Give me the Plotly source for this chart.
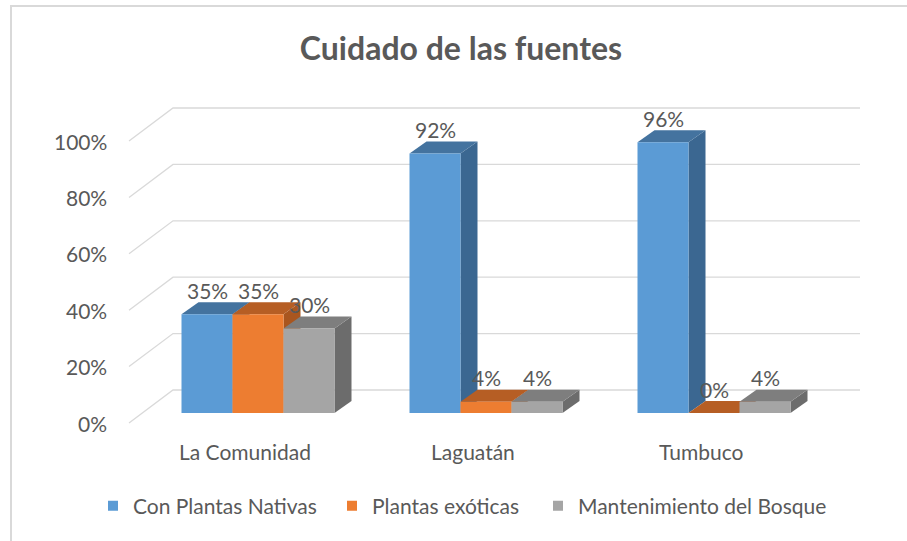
import plotly.graph_objects as go

# ---- data -------------------------------------------------------------
categories = ["La Comunidad", "Laguatán", "Tumbuco"]
series_names = ["Con Plantas Nativas", "Plantas exóticas", "Mantenimiento del Bosque"]
nativas = [35, 92, 96]
exoticas = [35, 4, 0]
bosque = [30, 4, 4]
tick_values = [0, 20, 40, 60, 80, 100]
tick_labels = ["0%", "20%", "40%", "60%", "80%", "100%"]

series_values = [nativas, exoticas, bosque]

# ---- styling ----------------------------------------------------------
front_colors = ["#5B9BD5", "#ED7D31", "#A5A5A5"]
top_colors = ["#44739F", "#B65E24", "#7E7E7E"]
side_colors = ["#3B6791", "#A9561F", "#6C6C6C"]
TEXT = "#595959"
GRID = "#D9D9D9"
FONT = "Lato"
FS = 21

W, H = 907, 541
M_L, M_R, M_T, M_B = 120, 37, 80, 71
PLOT_W, PLOT_H = W - M_L - M_R, H - M_T - M_B

# pixel scales used to set up a pseudo-3D projection on the 2D axes
PX_PER_X = 228.0     # pixels per category step
PX_PER_V = 2.82      # pixels per percentage point
X0_PX = 258.0        # pixel of first category centre
BASE_PX = 413.0      # pixel of value 0 in the bar plane

BAR_W = 51 / PX_PER_X                # bar width (x units)
DEPTH_DX = 17 / PX_PER_X             # bar depth projection
DEPTH_DV = 12 / PX_PER_V
FRONT_DX, FRONT_DV = -13 / PX_PER_X, -10 / PX_PER_V   # front edge of floor
BACK_DX, BACK_DV = 31 / PX_PER_X, 23 / PX_PER_V       # back wall
WALL_RIGHT = (860 - X0_PX) / PX_PER_X
AXIS_LEFT = (142 - X0_PX) / PX_PER_X                  # left edge in bar plane

x_range = [(M_L - X0_PX) / PX_PER_X, (M_L + PLOT_W - X0_PX) / PX_PER_X]
y_range = [(BASE_PX - (M_T + PLOT_H)) / PX_PER_V, (BASE_PX - M_T) / PX_PER_V]

fig = go.Figure()

# gridlines: front-left edge -> back wall -> across the wall
for v in tick_values:
    fig.add_trace(go.Scatter(
        x=[AXIS_LEFT + FRONT_DX, AXIS_LEFT + BACK_DX, WALL_RIGHT],
        y=[v + FRONT_DV, v + BACK_DV, v + BACK_DV],
        mode="lines", line=dict(color=GRID, width=1.3),
        hoverinfo="skip", showlegend=False))

# bars: drawn left to right so later bars hide earlier side faces
for ci in range(len(categories)):
    for si in range(len(series_names)):
        v = series_values[si][ci]
        x0 = ci + (si - 1.5) * BAR_W
        x1 = x0 + BAR_W
        # side face
        fig.add_trace(go.Scatter(
            x=[x1, x1 + DEPTH_DX, x1 + DEPTH_DX, x1, x1],
            y=[0, DEPTH_DV, v + DEPTH_DV, v, 0],
            fill="toself", fillcolor=side_colors[si], mode="lines",
            line=dict(width=0, color=side_colors[si]),
            hoverinfo="skip", showlegend=False))
        # top face
        fig.add_trace(go.Scatter(
            x=[x0, x1, x1 + DEPTH_DX, x0 + DEPTH_DX, x0],
            y=[v, v, v + DEPTH_DV, v + DEPTH_DV, v],
            fill="toself", fillcolor=top_colors[si], mode="lines",
            line=dict(width=0, color=top_colors[si]),
            hoverinfo="skip", showlegend=False))
        # front face
        fig.add_trace(go.Scatter(
            x=[x0, x1, x1, x0, x0],
            y=[0, 0, v, v, 0],
            fill="toself", fillcolor=front_colors[si], mode="lines",
            line=dict(width=0, color=front_colors[si]),
            name=series_names[si], hoverinfo="x+y", showlegend=False))


def px_to_paper_x(px):
    return (px - M_L) / PLOT_W


def px_to_paper_y(py):
    return (M_T + PLOT_H - py) / PLOT_H


# legend entries, one legend box per series for even placement
legend_ids = ["legend", "legend2", "legend3"]
legend_left_px = [93, 332, 538]
for si, name in enumerate(series_names):
    fig.add_trace(go.Scatter(
        x=[None], y=[None], mode="markers", name=name, legend=legend_ids[si],
        marker=dict(symbol="square", size=10, color=front_colors[si])))

legend_layout = {}
for lid, lx in zip(legend_ids, legend_left_px):
    legend_layout[lid] = dict(
        orientation="h", x=px_to_paper_x(lx), y=px_to_paper_y(506),
        xanchor="left", yanchor="middle",
        font=dict(family=FONT, size=FS, color=TEXT),
        bgcolor="rgba(0,0,0,0)")

annotations = []
# value labels
for ci in range(len(categories)):
    for si in range(len(series_names)):
        v = series_values[si][ci]
        annotations.append(dict(
            x=ci + (si - 1) * BAR_W, y=v, text=f"{v}%", showarrow=False,
            yshift=24, xanchor="center", yanchor="middle",
            font=dict(family=FONT, size=FS, color=TEXT)))
# value axis labels
for v, lab in zip(tick_values, tick_labels):
    annotations.append(dict(
        x=AXIS_LEFT + FRONT_DX, y=v + FRONT_DV, text=lab, showarrow=False,
        xanchor="right", yanchor="middle", xshift=-20,
        font=dict(family=FONT, size=FS, color=TEXT)))
# category labels
for ci, cat in enumerate(categories):
    annotations.append(dict(
        x=ci + FRONT_DX, y=FRONT_DV, text=cat, showarrow=False,
        xanchor="center", yanchor="middle", yshift=-28,
        font=dict(family=FONT, size=FS, color=TEXT)))

fig.update_layout(
    width=W, height=H,
    margin=dict(l=M_L, r=M_R, t=M_T, b=M_B),
    paper_bgcolor="white", plot_bgcolor="white",
    title=dict(text="<b>Cuidado de las fuentes</b>", x=461 / W, xanchor="center",
               y=1 - 49 / H, yanchor="middle", xref="container", yref="container",
               font=dict(family=FONT, size=32, color=TEXT)),
    xaxis=dict(range=x_range, visible=False, fixedrange=True),
    yaxis=dict(range=y_range, visible=False, fixedrange=True),
    showlegend=True,
    annotations=annotations,
    shapes=[dict(type="rect", xref="paper", yref="paper",
                 x0=px_to_paper_x(11), x1=px_to_paper_x(W + 10),
                 y0=px_to_paper_y(H + 10), y1=px_to_paper_y(6),
                 line=dict(color=GRID, width=2), layer="below")],
    **legend_layout,
)

fig.write_html("out.html")
